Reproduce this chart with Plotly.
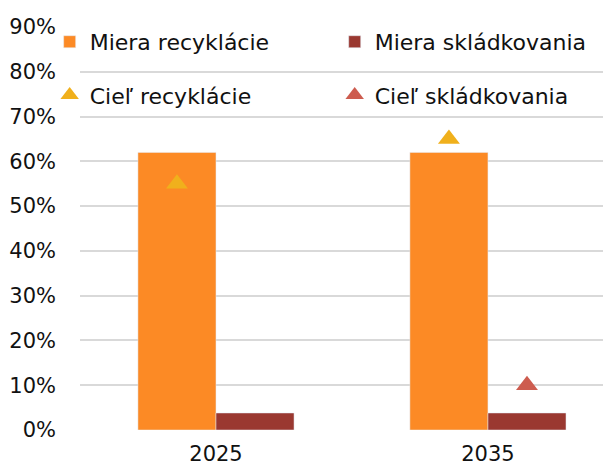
import plotly.graph_objects as go

years = ["2025", "2035"]
recycling_rate = [0.62, 0.62]
landfill_rate = [0.038, 0.038]
recycling_target = [0.55, 0.65]
landfill_target = [None, 0.10]
y_ticks = [0, 0.1, 0.2, 0.3, 0.4, 0.5, 0.6, 0.7, 0.8, 0.9]

FONT = "DejaVu Sans"
TXT = "#111111"
xi = list(range(len(years)))
bw = 0.287

fig = go.Figure()
fig.add_trace(go.Bar(x=xi, y=recycling_rate, name="Miera recyklácie",
                     marker_color="#FC8A25", width=bw, offset=-bw, legend="legend"))
fig.add_trace(go.Bar(x=xi, y=landfill_rate, name="Miera skládkovania",
                     marker_color="#9A3830", width=bw, offset=0, legend="legend2"))
fig.add_trace(go.Scatter(x=[i - bw / 2 for i in xi], y=recycling_target, mode="markers",
                         name="Cieľ recyklácie", legend="legend3",
                         marker=dict(symbol="triangle-up", size=19, color="#F0B01C")))
fig.add_trace(go.Scatter(x=[i + bw / 2 for i in xi], y=landfill_target, mode="markers",
                         name="Cieľ skládkovania", legend="legend4",
                         marker=dict(symbol="triangle-up", size=19, color="#CD5C4F")))

legend_common = dict(orientation="h", xanchor="left", yanchor="middle",
                     font=dict(family=FONT, size=22, color=TXT),
                     bgcolor="rgba(0,0,0,0)", itemwidth=30)

x1, x2 = -0.058, 0.487
r1, r2 = 0.963, 0.831

fig.update_layout(
    width=603, height=468,
    margin=dict(l=80, r=0, t=27, b=38),
    paper_bgcolor="white", plot_bgcolor="white",
    font=dict(family=FONT, size=21, color=TXT),
    barmode="overlay",
    showlegend=True,
    legend=dict(x=x1, y=r1, **legend_common),
    legend2=dict(x=x2, y=r1, **legend_common),
    legend3=dict(x=x1, y=r2, **legend_common),
    legend4=dict(x=x2, y=r2, **legend_common),
    xaxis=dict(tickvals=xi, ticktext=years, range=[-0.5, 1.423], automargin=False,
               showgrid=False, zeroline=False, showline=False, ticks="",
               tickfont=dict(family=FONT, size=21, color=TXT), ticklabelstandoff=9),
    yaxis=dict(range=[0, 0.9], tickvals=y_ticks, tickformat=".0%", automargin=False,
               showgrid=True, gridcolor="#D9D9D9", gridwidth=1.5,
               zeroline=False, showline=False, ticks="",
               tickfont=dict(family=FONT, size=21, color=TXT), ticklabelstandoff=23),
)

fig.write_html("out.html", config={"displayModeBar": False},
               post_script="document.body.style.margin='0px';")
